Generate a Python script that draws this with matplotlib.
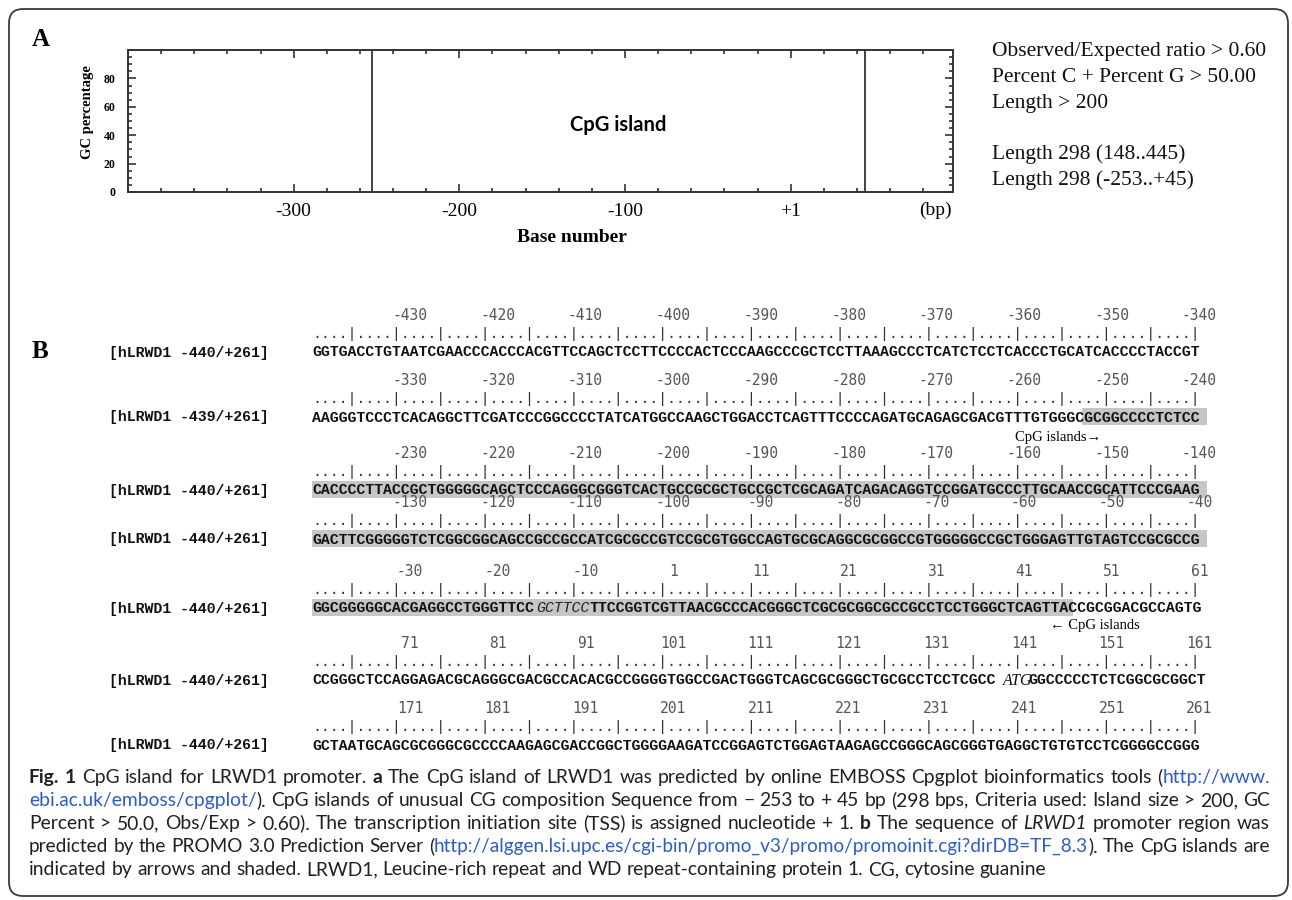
import re
import matplotlib
matplotlib.use('Agg')
import matplotlib.pyplot as plt
from matplotlib.patches import Rectangle, FancyBboxPatch
from matplotlib.ticker import MultipleLocator

SERIF = ['Liberation Serif', 'DejaVu Serif']
MONO = ['Liberation Mono', 'DejaVu Sans Mono']
NUMF = ['DejaVu Sans Mono']
CAP = ['Lato', 'DejaVu Sans']
plt.rcParams['font.family'] = SERIF

# ---------- panel A data ----------
island_start, island_end = -253, 45
x_range = (-400, 98)
gc_range = (0, 100)
x_major = [-300, -200, -100, 0]
x_major_labels = ['-300', '-200', '-100', '+1']
y_major = [0, 20, 40, 60, 80]

criteria = ['Observed/Expected ratio > 0.60',
            'Percent C + Percent G > 50.00',
            'Length > 200',
            '',
            'Length 298 (148..445)',
            'Length 298 (-253..+45)']

# ---------- panel B data ----------
row_labels = ['[hLRWD1 -440/+261]', '[hLRWD1 -439/+261]', '[hLRWD1 -440/+261]',
              '[hLRWD1 -440/+261]', '[hLRWD1 -440/+261]', '[hLRWD1 -440/+261]',
              '[hLRWD1 -440/+261]']
row_numbers = [
    ['-430', '-420', '-410', '-400', '-390', '-380', '-370', '-360', '-350', '-340'],
    ['-330', '-320', '-310', '-300', '-290', '-280', '-270', '-260', '-250', '-240'],
    ['-230', '-220', '-210', '-200', '-190', '-180', '-170', '-160', '-150', '-140'],
    ['-130', '-120', '-110', '-100', '-90', '-80', '-70', '-60', '-50', '-40'],
    ['-30', '-20', '-10', '1', '11', '21', '31', '41', '51', '61'],
    ['71', '81', '91', '101', '111', '121', '131', '141', '151', '161'],
    ['171', '181', '191', '201', '211', '221', '231', '241', '251', '261'],
]
row_seqs = [
    'GGTGACCTGTAATCGAACCCACCCACGTTCCAGCTCCTTCCCCACTCCCAAGCCCGCTCCTTAAAGCCCTCATCTCCTCACCCTGCATCACCCCTACCGT',
    'AAGGGTCCCTCACAGGCTTCGATCCCGGCCCCTATCATGGCCAAGCTGGACCTCAGTTTCCCCAGATGCAGAGCGACGTTTGTGGGCGCGGCCCCTCTCC',
    'CACCCCTTACCGCTGGGGGCAGCTCCCAGGGCGGGTCACTGCCGCGCTGCCGCTCGCAGATCAGACAGGTCCGGATGCCCTTGCAACCGCATTCCCGAAG',
    'GACTTCGGGGGTCTCGGCGGCAGCCGCCGCCATCGCGCCGTCCGCGTGGCCAGTGCGCAGGCGCGGCCGTGGGGGCCGCTGGGAGTTGTAGTCCGCGCCG',
    'GGCGGGGGCACGAGGCCTGGGTTCCGCTTCCTTCCGGTCGTTAACGCCCACGGGCTCGCGCGGCGCCGCCTCCTGGGCTCAGTTACCGCGGACGCCAGTG',
    'CCGGGCTCCAGGAGACGCAGGGCGACGCCACACGCCGGGGTGGCCGACTGGGTCAGCGCGGGCTGCGCCTCCTCGCCATGGGCCCCCTCTCGGCGCGGCT',
    'GCTAATGCAGCGCGGGCGCCCCAAGAGCGACCGGCTGGGGAAGATCCGGAGTCTGGAGTAAGAGCCGGGCAGCGGGTGAGGCTGTGTCCTCGGGGCCGGG',
]
# 1-based column ranges
shaded = [None, (87, 100), (1, 100), (1, 100), (1, 85), None, None]
italic_runs = [None, None, None, None, (26, 31), None, None]
atg_runs = [None, None, None, None, None, (78, 80), None]
ruler = '....|' * 20

caption = [
    '[b:Fig.] [b:1] CpG island for LRWD1 promoter. [b:a] The CpG island of LRWD1 was predicted by online EMBOSS Cpgplot bioinformatics tools ([u:http://www.]',
    '[u:ebi.ac.uk/emboss/cpgplot/]). CpG islands of unusual CG composition Sequence from \u2212 253 to + 45 bp (298 bps, Criteria used: Island size > 200, GC',
    'Percent > 50.0, Obs/Exp > 0.60). The transcription initiation site (TSS) is assigned nucleotide + 1. [b:b] The sequence of [i:LRWD1] promoter region was',
    'predicted by the PROMO 3.0 Prediction Server ([u:http://alggen.lsi.upc.es/cgi-bin/promo_v3/promo/promoinit.cgi?dirDB=TF_8.3]). The CpG islands are',
    'indicated by arrows and shaded. LRWD1, Leucine-rich repeat and WD repeat-containing protein 1. CG, cytosine guanine',
]

# ---------- figure ----------
W, H = 1292, 900
fig = plt.figure(figsize=(W / 100, H / 100), dpi=100)
bg = fig.add_axes([0, 0, 1, 1])
bg.set_xlim(0, W)
bg.set_ylim(H, 0)
bg.axis('off')
renderer = fig.canvas.get_renderer()

bg.add_patch(FancyBboxPatch((9, 9), 1279, 887, boxstyle='round,pad=0,rounding_size=14',
                            lw=1.3, ec='#3a3a3a', fc='none'))

# panel labels
bg.text(41, 40, 'A', fontsize=18, fontweight='bold', ha='center', va='center')
bg.text(40, 352, 'B', fontsize=18, fontweight='bold', ha='center', va='center')

# ---------- panel A ----------
ax = fig.add_axes([128 / W, 1 - 192 / H, 825 / W, 142 / H])
ax.vlines([island_start, island_end], *gc_range, color='#333333', lw=1.3)
ax.set_xlim(*x_range)
ax.set_ylim(*gc_range)
ax.set_xticks(x_major)
ax.set_xticklabels(x_major_labels)
ax.xaxis.set_minor_locator(MultipleLocator(20))
ax.set_yticks(y_major)
ax.yaxis.set_minor_locator(MultipleLocator(5))
ax.tick_params(which='both', direction='in', top=True, right=True, width=1.2, color='#333333')
ax.tick_params(which='major', length=6)
ax.tick_params(which='minor', length=3)
ax.tick_params(axis='x', labelsize=14, pad=8)
ax.tick_params(axis='y', labelsize=8.5, pad=9)
for lb in ax.get_yticklabels():
    lb.set_fontweight('bold')
for s in ax.spines.values():
    s.set_linewidth(1.4)
    s.set_color('#333333')
ax.text(-104, 47, 'CpG island', family=CAP, fontweight='bold', fontsize=14.5,
        ha='center', va='center')

bg.text(935, 210, '(bp)', fontsize=14, ha='center', va='center')
bg.text(572, 237, 'Base number', fontsize=14, fontweight='bold', ha='center', va='center')
bg.text(87, 112, 'GC percentage', fontsize=10.5, fontweight='bold', rotation=90,
        ha='center', va='center')

for i, line in enumerate(criteria):
    if line:
        bg.text(992, 56 + i * 25.8, line, fontsize=15.5, va='baseline', color='#111111')

# ---------- panel B ----------
x0 = 312
target_w = 895
t = bg.text(0, 0, row_seqs[0], family=MONO, fontweight='bold', fontsize=10)
seq_fs = 10 * target_w / t.get_window_extent(renderer).width
t.remove()
cw = target_w / 100

seq_y = [352, 417, 490, 539, 608, 680, 745]
num_x0, num_dx = 410, 87.7
seq_kw = dict(family=MONO, fontweight='bold', fontsize=seq_fs, va='baseline', color='#111111')

for r, seq in enumerate(row_seqs):
    yc = seq_y[r]
    bg.text(109, yc + 4.5, row_labels[r], **seq_kw)
    for k, lab in enumerate(row_numbers[r]):
        bg.text(num_x0 + k * num_dx, yc - 32, lab, family=NUMF, fontsize=10.5,
                color='#555555', ha='center', va='baseline')
    bg.text(x0, yc - 14, ruler, family=MONO, fontsize=seq_fs, color='#333333', va='baseline')
    if shaded[r]:
        a, b = shaded[r]
        bg.add_patch(Rectangle((x0 + (a - 1) * cw, yc - 9), (b - a + 1) * cw, 17,
                               facecolor='#c6c6c6', edgecolor='none', zorder=0))
    specials = []
    if italic_runs[r]:
        specials.append((*italic_runs[r], 'it'))
    if atg_runs[r]:
        specials.append((*atg_runs[r], 'atg'))
    col = 1
    for a, b, kind in sorted(specials) + [(len(seq) + 1, len(seq), None)]:
        if a > col:
            bg.text(x0 + (col - 1) * cw, yc + 4.5, seq[col - 1:a - 1], **seq_kw)
        if kind == 'it':
            bg.text(x0 + (a - 1) * cw, yc + 4.5, seq[a - 1:b], family=MONO, fontstyle='italic',
                    fontsize=seq_fs, va='baseline', color='#222222')
        elif kind == 'atg':
            bg.text(x0 + (a - 1) * cw + 2, yc + 5, seq[a - 1:b], family=SERIF, fontstyle='italic',
                    fontsize=11.5, va='baseline', color='#111111')
        col = b + 1

bg.text(1015, seq_y[1] + 24, 'CpG islands\u2192', fontsize=10.5, va='baseline')
bg.text(1050, seq_y[4] + 21, '\u2190 CpG islands', fontsize=10.5, va='baseline')

# ---------- caption ----------
styles = {'n': dict(color='#231f20'),
          'b': dict(color='#231f20', fontweight='bold'),
          'i': dict(color='#231f20', fontstyle='italic'),
          'u': dict(color='#2b5bd0')}


def parse_words(line):
    words = []
    for w in line.split(' '):
        parts = []
        for m in re.finditer(r'\[(b|i|u):([^\]]*)\]|([^\[]+)', w):
            if m.group(3):
                parts.append((m.group(3), 'n'))
            else:
                parts.append((m.group(2), m.group(1)))
        words.append(parts)
    return words


def text_w(txt, fs, st='n'):
    tt = bg.text(0, 0, txt, family=CAP, fontsize=fs, **styles[st])
    w = tt.get_window_extent(renderer).width
    tt.remove()
    return w


def space_w(fs):
    return text_w('n n', fs) - text_w('nn', fs)


def natural_w(line, fs):
    words = parse_words(line)
    total = sum(text_w(txt, fs, st) for parts in words for txt, st in parts)
    return total + (len(words) - 1) * space_w(fs)


cap_left, cap_right, last_right = 29, 1270, 1131
fits = []
for i, line in enumerate(caption):
    tgt = (cap_right if i < len(caption) - 1 else last_right) - cap_left
    fits.append(10 * tgt / natural_w(line, 10))
# the long URL line gets its own (smaller) size so the others keep the reference size
base_fs = min(f for i, f in enumerate(fits) if i != 3)
line_fs = [min(base_fs, f) for f in fits]


def draw_line(line, yb, fs, justify):
    items = []
    for parts in parse_words(line):
        texts = []
        for txt, st in parts:
            tt = bg.text(0, yb, txt, family=CAP, fontsize=fs, va='baseline', **styles[st])
            texts.append((tt, tt.get_window_extent(renderer).width))
        items.append(texts)
    widths = [sum(wd for _, wd in it) for it in items]
    if justify:
        gap = (cap_right - cap_left - sum(widths)) / (len(items) - 1)
    else:
        gap = space_w(fs)
    x = cap_left
    for it in items:
        for tt, wd in it:
            tt.set_x(x)
            x += wd
        x += gap


cap_y = [783, 806, 829, 852, 875]
for i, line in enumerate(caption):
    draw_line(line, cap_y[i], line_fs[i], i < len(caption) - 1)

fig.savefig('out.png', dpi=100)
